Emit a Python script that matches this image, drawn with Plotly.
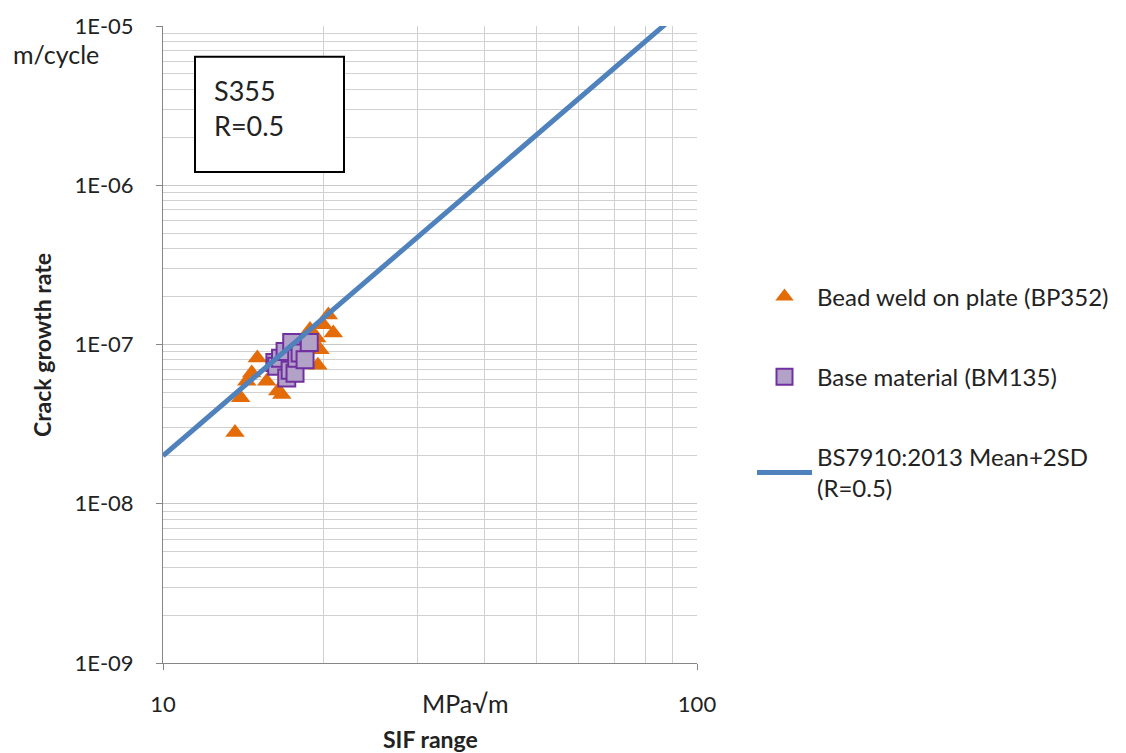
import plotly.graph_objects as go

# Bead weld on plate (BP352)
bp_k = [13.64, 13.98, 14.35, 14.66, 15.02, 15.64, 16.69, 16.4, 19.68, 19.5, 19.96, 20.4, 20.84, 18.85, 19.4]
bp_rate = [2.80e-8, 4.63e-8, 5.88e-8, 6.62e-8, 8.22e-8, 5.88e-8, 4.86e-8, 5.1e-8, 9.27e-8, 7.4e-8, 1.33e-7, 1.53e-7, 1.18e-7, 1.24e-7, 1.1e-7]

# Base material (BM135)
bm_k = [16.2, 16.33, 16.6, 16.93, 17.05, 17.3, 17.42, 17.67, 17.8, 18.06, 18.45, 18.79]
bm_rate = [7.7e-8, 7.29e-8, 8.2e-8, 9.04e-8, 6.17e-8, 6.9e-8, 1.03e-7, 6.6e-8, 8.2e-8, 8.83e-8, 8.03e-8, 1.03e-7]

# BS7910:2013 Mean+2SD (R=0.5)
bs_k = [10, 100]
bs_rate = [2.0e-8, 1.52e-5]

FONT = "Lato"
TXT = "#222222"

fig = go.Figure()
fig.add_trace(go.Scatter(
    x=bp_k, y=bp_rate, mode="markers", name="Bead weld on plate (BP352)",
    marker=dict(symbol="triangle-up", size=17, color="#E36C09", line=dict(width=0)),
    legendgroup="a"))
fig.add_trace(go.Scatter(
    x=bm_k, y=bm_rate, mode="markers", name="Base material (BM135)",
    marker=dict(symbol="square", size=17, color="#B3A2C7", line=dict(width=2, color="#7030A0")),
    legendgroup="b"))
fig.add_trace(go.Scatter(
    x=bs_k, y=bs_rate, mode="lines", name="BS7910:2013 Mean+2SD<br>(R=0.5)",
    line=dict(color="#4F81BD", width=5), legendgroup="c"))

grid = "#D0D0D0"
fig.update_xaxes(
    type="log", range=[1, 2], tickvals=[10, 100], ticktext=["10", "100"],
    showgrid=True, gridcolor="#C8C8C8", gridwidth=1,
    minor=dict(tickvals=[20, 30, 40, 50, 60, 70, 80, 90], showgrid=True, gridcolor=grid, gridwidth=1,
               ticks=""),
    ticks="outside", ticklen=6, tickcolor="#868686", ticklabelstandoff=16,
    showline=True, linecolor="#868686", linewidth=1,
    tickfont=dict(family=FONT, size=22, color=TXT), zeroline=False)

yt = [1e-9, 1e-8, 1e-7, 1e-6, 1e-5]
ymin = []
for d in [1e-9, 1e-8, 1e-7, 1e-6]:
    for m in range(2, 10):
        ymin.append(m * d)
fig.update_yaxes(
    type="log", range=[-9, -5], tickvals=yt, ticktext=["1E-09", "1E-08", "1E-07", "1E-06", "1E-05"],
    showgrid=True, gridcolor="#C8C8C8", gridwidth=1,
    minor=dict(tickvals=ymin, showgrid=True, gridcolor=grid, gridwidth=1, ticks=""),
    ticks="outside", ticklen=6, tickcolor="#868686", ticklabelstandoff=18,
    showline=True, linecolor="#868686", linewidth=1,
    tickfont=dict(family=FONT, size=22, color=TXT), zeroline=False)

fig.update_layout(
    width=1126, height=753,
    margin=dict(l=163, r=429, t=22, b=90),
    plot_bgcolor="white", paper_bgcolor="white",
    font=dict(family=FONT, size=22, color=TXT),
    legend=dict(x=(752 - 163) / 534, y=(663 - 272) / 641, xanchor="left", yanchor="top",
                font=dict(family=FONT, size=24, color=TXT),
                traceorder="grouped", tracegroupgap=46, itemwidth=55,
                bgcolor="rgba(0,0,0,0)"),
    showlegend=True,
)

fig.add_shape(type="rect", xref="paper", yref="paper",
              x0=(195 - 163) / 534, x1=(344 - 163) / 534,
              y0=(663 - 169) / 641, y1=(663 - 53) / 641,
              line=dict(color="black", width=2), fillcolor="white", layer="above")
fig.add_annotation(xref="paper", yref="paper", x=(212 - 163) / 534, y=(663 - 105) / 641,
                   xanchor="left", yanchor="middle", align="left", showarrow=False,
                   text="S355<br>R=0.5", font=dict(family=FONT, size=27, color=TXT))
fig.add_annotation(xref="paper", yref="paper", x=(101 - 163) / 534, y=(663 - 50) / 641,
                   xanchor="right", yanchor="middle", showarrow=False,
                   text="m/cycle", font=dict(family=FONT, size=25, color=TXT))
fig.add_annotation(xref="paper", yref="paper", x=(465 - 163) / 534, y=-(703 - 663) / 641,
                   xanchor="center", yanchor="middle", showarrow=False,
                   text="MPa√m", font=dict(family=FONT, size=25, color=TXT))
fig.add_annotation(xref="paper", yref="paper", x=(430 - 163) / 534, y=-(739 - 663) / 641,
                   xanchor="center", yanchor="middle", showarrow=False,
                   text="<b>SIF range</b>", font=dict(family=FONT, size=23, color=TXT))
fig.add_annotation(xref="paper", yref="paper", x=-(163 - 42) / 534, y=(663 - 343) / 641,
                   xanchor="center", yanchor="middle", showarrow=False, textangle=-90,
                   text="<b>Crack growth rate</b>", font=dict(family=FONT, size=23, color=TXT))

fig.write_html("out.html")
